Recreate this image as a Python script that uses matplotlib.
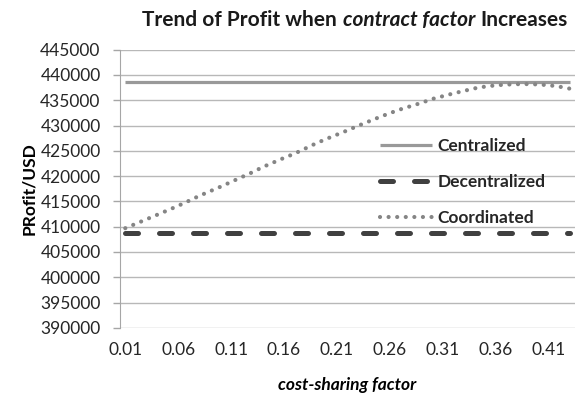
import matplotlib
matplotlib.use("Agg")
import matplotlib.pyplot as plt

plt.rcParams['font.family'] = ['Lato', 'DejaVu Sans']

# cost-sharing factor categories 0.01 .. 0.43
factors = ["%.2f" % (0.01 * (i + 1)) for i in range(43)]
centralized = [438650] * 43
decentralized = [408700] * 43
coordinated = [409700, 410580, 411460, 412340, 413230, 414130, 415100, 416100,
               417000, 417900, 418850, 419800, 420750, 421800, 422700, 423600,
               424450, 425450, 426450, 427350, 428200, 429050, 429950, 430800,
               431650, 432450, 433200, 433850, 434500, 435250, 435800, 436350,
               436850, 437350, 437700, 437950, 438100, 438180, 438200, 438130,
               437980, 437700, 437300]
yticks = list(range(390000, 445001, 5000))
label_every = 5

fig = plt.figure(figsize=(5.76, 4.01), dpi=100)
ax = fig.add_axes([120 / 576, 1 - 327.8 / 401, 455 / 576, (327.8 - 49.7) / 401])

x = list(range(len(factors)))
ax.plot(x, centralized, color='#999999', lw=2.3, solid_capstyle='butt', label='Centralized')
ax.plot(x, decentralized, color='#404040', lw=3.6, dashes=(2.6, 4.2),
        dash_capstyle='round', label='Decentralized')
ax.plot(x, coordinated, color='#858585', lw=3.0, dashes=(0.01, 2.05),
        dash_capstyle='round', label='Coordinated')

ax.set_xlim(-0.5, len(factors) - 0.5)
ax.set_ylim(390000, 445000)
ax.set_yticks(yticks)
ax.set_xticks(x[::label_every])
ax.set_xticklabels(factors[::label_every])
ax.yaxis.grid(True, color='#b8b8b8', lw=1.0)
ax.set_axisbelow(True)
for s in ['top', 'right', 'bottom']:
    ax.spines[s].set_visible(False)
ax.spines['left'].set_color('#a6a6a6')
ax.tick_params(axis='y', length=5, width=1, color='#a6a6a6', pad=9,
               labelsize=12.5, labelcolor='#262626')
ax.tick_params(axis='x', length=0, pad=10, labelsize=12.5, labelcolor='#262626')

ax.set_ylabel('PRofit/USD', fontsize=12.5, fontweight='bold', labelpad=2)
ax.set_xlabel('cost-sharing factor', fontsize=12.5, fontweight='bold',
              fontstyle='italic', labelpad=14)

leg = fig.legend(loc='upper left', bbox_to_anchor=(380 / 576, 1 - 138 / 401),
                 frameon=False, fontsize=12.5, handlelength=3.0, handletextpad=0.3,
                 labelspacing=1.15, borderpad=0, borderaxespad=0)
for t in leg.get_texts():
    t.set_fontweight('bold')
    t.set_color('#262626')

# title in three pieces: bold, bold italic, bold
ty = 1 - 26 / 401
tsize = 15
t1 = fig.text(0.2, ty, 'Trend of Profit when', fontsize=tsize, fontweight='bold',
              ha='left', va='baseline', color='#1a1a1a')
t2 = ax.annotate('contract factor', xy=(1, 0), xycoords=t1, xytext=(4, 0),
                 textcoords='offset points', fontsize=tsize, fontweight='bold',
                 fontstyle='italic', ha='left', va='bottom', color='#1a1a1a',
                 annotation_clip=False)
t3 = ax.annotate('Increases', xy=(1, 0), xycoords=t2, xytext=(4, 0),
                 textcoords='offset points', fontsize=tsize, fontweight='bold',
                 ha='left', va='bottom', color='#1a1a1a', annotation_clip=False)
fig.canvas.draw()
r = fig.canvas.get_renderer()
left = t1.get_window_extent(r).x0
right = t3.get_window_extent(r).x1
width = right - left
t1.set_x((355 - width / 2) / 576)

fig.savefig('out.png', dpi=100)
